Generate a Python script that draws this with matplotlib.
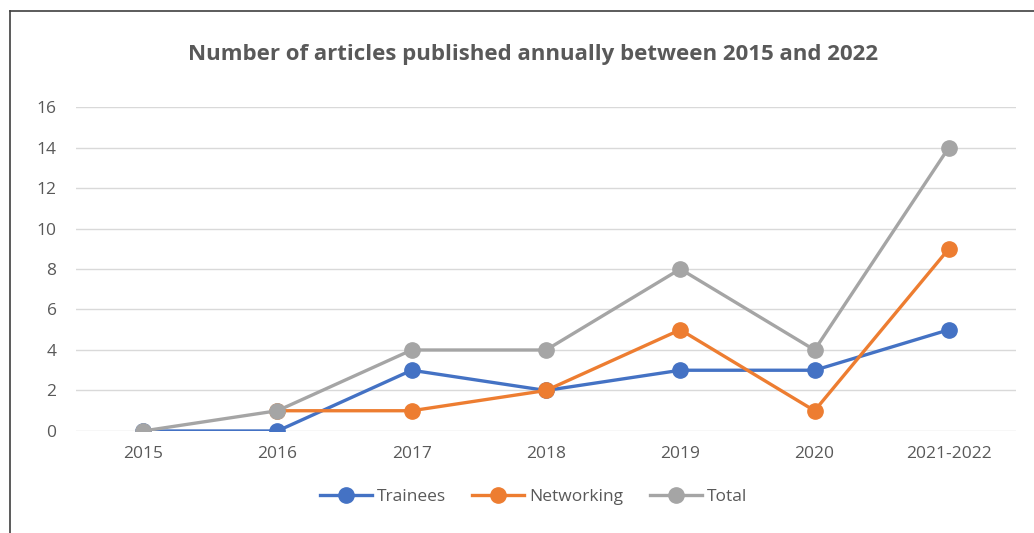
import matplotlib
matplotlib.use('Agg')
import matplotlib.pyplot as plt
from matplotlib.lines import Line2D

categories = ['2015', '2016', '2017', '2018', '2019', '2020', '2021-2022']
trainees = [0, 0, 3, 2, 3, 3, 5]
networking = [None, 1, 1, 2, 5, 1, 9]
total = [0, 1, 4, 4, 8, 4, 14]
yticks = [0, 2, 4, 6, 8, 10, 12, 14, 16]

plt.rcParams['font.family'] = ['Open Sans', 'DejaVu Sans']
text_col = '#595959'

fig = plt.figure(figsize=(10.34, 5.33), dpi=100)
ax = fig.add_axes([0.0735, 0.1914, 0.9091, 0.6078])

x = list(range(len(categories)))
x_net = [i for i, v in zip(x, networking) if v is not None]
y_net = [v for v in networking if v is not None]

ax.plot(x, trainees, color='#4472C4', lw=2.4, marker='o', ms=11, label='Trainees', zorder=3)
ax.plot(x_net, y_net, color='#ED7D31', lw=2.4, marker='o', ms=11, label='Networking', zorder=3)
ax.plot(x, total, color='#A5A5A5', lw=2.4, marker='o', ms=11, label='Total', zorder=3)

ax.set_xlim(-0.5, len(categories) - 0.5)
ax.set_ylim(0, 16)
ax.set_yticks(yticks)
ax.set_xticks(x)
ax.set_xticklabels(categories)
ax.grid(axis='y', color='#D9D9D9', lw=1)
ax.set_axisbelow(True)
for s in ax.spines.values():
    s.set_visible(False)
ax.tick_params(length=0, labelsize=12.5, colors=text_col, pad=11)
ax.tick_params(axis='y', pad=14)
ax.patch.set_alpha(0)

fig.text(0.516, 0.898, 'Number of articles published annually between 2015 and 2022',
         ha='center', va='center', fontsize=16, fontweight='bold', color=text_col)

fig.legend(loc='center', bbox_to_anchor=(0.516, 0.068), ncol=3, frameon=False,
           fontsize=12.5, labelcolor=text_col, handlelength=3, columnspacing=1.5,
           handletextpad=0.3)

# chart frame (left and top edges only visible in the crop)
fig.add_artist(Line2D([0.0097, 0.0097], [0, 0.979], color='#404040', lw=1.2, transform=fig.transFigure))
fig.add_artist(Line2D([0.0097, 1.0], [0.979, 0.979], color='#404040', lw=1.2, transform=fig.transFigure))

fig.savefig('out.png', dpi=100)
